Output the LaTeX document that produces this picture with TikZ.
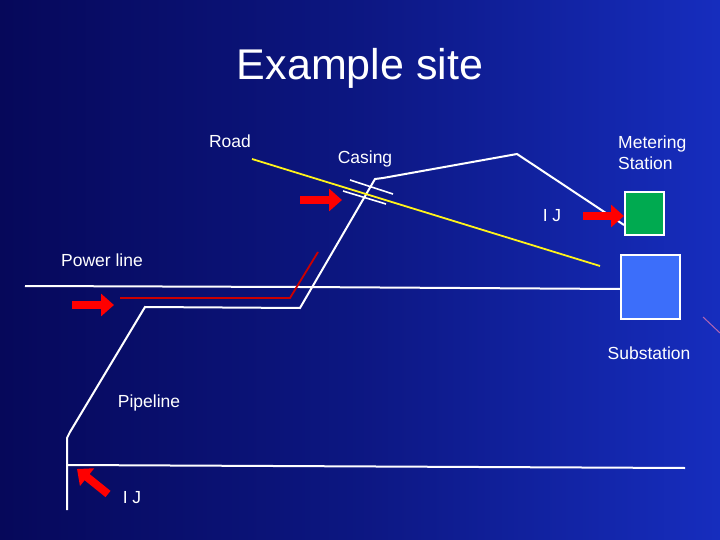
\documentclass[tikz,border=0pt]{standalone}
\usepackage{fontspec}
\setmainfont{Liberation Sans}
\usetikzlibrary{arrows.meta}
\begin{document}
\begin{tikzpicture}[x=1pt,y=-1pt,
  lbl/.style={text=white,font=\fontsize{17.5}{21}\selectfont,inner sep=0pt,align=left},
  wl/.style={white,line width=2pt},
  rarrow/.style={red,line width=8pt,-{Triangle[length=13pt,width=22pt]}},
  box/.style={draw=white,line width=2pt,inner sep=0pt}]
\definecolor{bgA}{RGB}{6,8,90}
\definecolor{bgB}{RGB}{22,45,190}
\useasboundingbox (0,0) rectangle (720,540);
\shade[left color=bgA,right color=bgB,middle color=bgA!60!bgB] (0,0) rectangle (720,540);
\node[text=white,font=\fontsize{43}{48}\selectfont] (title) at (360,68) {Example site};
\node[lbl] (road) at (230,141) {Road};
\node[lbl] (casing) at (365,159) {Casing};
\node[lbl] (meter) at (618,153) [anchor=west] {Metering\\Station};
\node[lbl] (ij1) at (552,216) {I J};
\node[lbl] (power) at (102,260) {Power line};
\node[lbl] (subst) at (649,353) {Substation};
\node[lbl] (pipe) at (149,403) {Pipeline};
\node[lbl] (ij2) at (132,498) {I J};
\node[box,fill={rgb,255:red,0;green,170;blue,80},minimum width=39pt,minimum height=43pt] (green) at (644.5,213.5) {};
\node[box,fill={rgb,255:red,60;green,110;blue,250},minimum width=59pt,minimum height=64pt] (blue) at (650.5,287) {};
\coordinate (p0) at (25,286);
\draw[wl] (p0) -- (300,287) -- (blue.west |- 0,289);
\coordinate (b0) at (68,465);
\coordinate (b1) at (685,468);
\draw[wl] (b0) -- (b1);
\coordinate (q0) at (67,510);
\draw[wl] (q0) -- (67,438) -- (70,432) -- (145,307) -- (300,308) -- (375,179) -- (383,178) -- (517,154) -- (green.west |- 0,225);
\coordinate (r0) at (252,159);
\coordinate (r1) at (600,266);
\draw[yellow!90!white,line width=1.8pt] (r0) -- (r1);
\draw[white,line width=1.6pt] (350,180) -- (393,194);
\draw[white,line width=1.6pt] (343,191) -- (386,204);
\draw[red!80!black,line width=1.8pt] (120,298) -- (290,298) -- (318,252);
\draw[rarrow] (300,200) -- (342,200);
\draw[rarrow] (72,305) -- (114,305);
\draw[rarrow] (583,216) -- (624,216);
\draw[rarrow] (108,494) -- (77,469);
\draw[violet!60!white,line width=1pt] (703,317) -- (720,333);
\end{tikzpicture}
\end{document}
